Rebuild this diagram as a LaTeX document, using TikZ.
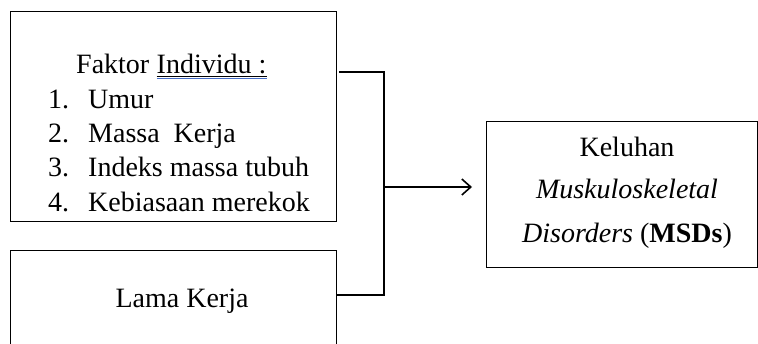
\documentclass[tikz,border=0pt]{standalone}
\usepackage{fontspec}
\setmainfont{Liberation Serif}
\usetikzlibrary{arrows.meta}
\definecolor{spell}{RGB}{70,110,200}
\begin{document}
\begin{tikzpicture}[x=1pt,y=-1pt,
  box/.style={draw,line width=1pt,anchor=north west,inner sep=0pt},
  conn/.style={line width=1.8pt},
  txt/.style={inner sep=0pt,anchor=base west,font=\fontsize{28}{30}\selectfont},
  ctxt/.style={inner sep=0pt,anchor=base,font=\fontsize{28}{30}\selectfont}]
\useasboundingbox (0,0) rectangle (758,343);
% boxes
\node[box,minimum width=326pt,minimum height=210pt] (b1) at (10,11) {};
\node[box,minimum width=326pt,minimum height=130pt] (b2) at (10,250) {};
\node[box,minimum width=271pt,minimum height=146pt] (r) at (486,121) {};
% box 1 text
\node[txt] (h) at (76,73) {Faktor};
\node[txt,anchor=base west] (hi) at ([xshift=7pt]h.base east) {Individu :};
\draw[line width=0.8pt] ([yshift=-3pt]hi.base west) -- ([yshift=-3pt]hi.base east);
\draw[spell,line width=0.9pt] ([yshift=-5.5pt]hi.base west) -- ([yshift=-5.5pt]hi.base east);
\node[txt] (n1) at (48,108) {1.};
\node[txt] (t1) at (88,108) {Umur};
\node[txt] (n2) at (48,142) {2.};
\node[txt] (t2) at (88,142) {Massa\ \ Kerja};
\node[txt] (n3) at (48,176) {3.};
\node[txt] (t3) at (88,176) {Indeks massa tubuh};
\node[txt] (n4) at (48,211) {4.};
\node[txt] (t4) at (88,211) {Kebiasaan merekok};
% box 2 text
\node[ctxt] (lk) at (182,307) {Lama Kerja};
% right box text
\node[ctxt] (k1) at (627,156) {Keluhan};
\node[ctxt] (k2) at (627,198) {\itshape Muskuloskeletal};
\node[ctxt] (k3) at (627,242) {\textit{Disorders} (\textbf{MSDs})};
% connectors
\coordinate (j1) at (384,72);
\coordinate (j2) at (384,295);
\coordinate (jm) at (384,187);
\draw[conn] (b1.east |- j1) ++(2pt,0) -- (j1) -- (j2) -- (b2.east |- j2);
\draw[conn,-{Straight Barb[length=9pt,width=16pt,line width=1.6pt]},shorten >=14pt] (jm) -- (jm -| r.west);
\end{tikzpicture}
\end{document}
